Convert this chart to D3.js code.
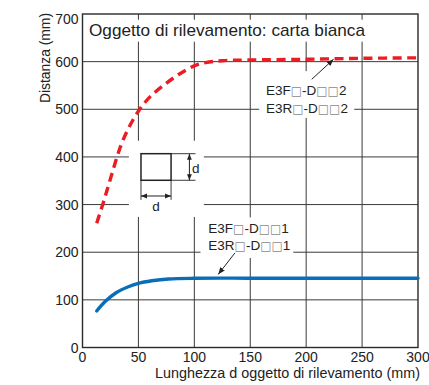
<!DOCTYPE html>
<html><head><meta charset="utf-8">
<script src="https://cdn.jsdelivr.net/npm/d3@7/dist/d3.min.js"></script>
<style>
html,body{margin:0;padding:0;background:#fff;}
svg{display:block;font-family:"Liberation Sans",Arial,Helvetica,sans-serif;}
</style></head>
<body>
<svg id="c" width="429" height="385"></svg>
<script>
// ---- data ----
const xTicks = [0, 50, 100, 150, 200, 250, 300];
const yTicks = [0, 100, 200, 300, 400, 500, 600, 700];
const redX = [12.7, 18.6, 24.6, 30.6, 35, 40, 45, 50, 55, 62, 74, 86, 100, 110, 125, 150, 200, 250, 300];
const redY = [261, 304, 351, 398, 428, 455, 477, 496, 512, 530, 553, 573, 591, 598, 602, 603.5, 605, 607, 608];
const blueX = [12.7, 20, 30, 41, 50, 62, 77, 100, 150, 200, 250, 300];
const blueY = [76.6, 96, 115, 127.6, 134.7, 140, 143.8, 145.3, 145.5, 145.5, 145.5, 145.5];
const titleText = "Oggetto di rilevamento: carta bianca";
const xTitle = "Lunghezza d oggetto di rilevamento (mm)";
const yTitle = "Distanza (mm)";
const label2 = [["E3F","□","-D","□□","2"],["E3R","□","-D","□□","2"]];
const label1 = [["E3F","□","-D","□□","1"],["E3R","□","-D","□□","1"]];

// ---- scales ----
const W = 429, H = 385;
const x = d3.scaleLinear().domain([0, 300]).range([82.5, 418]);
const y = d3.scaleLinear().domain([0, 700]).range([347.5, 14]);
const svg = d3.select("#c");
const gridCol = "#3a3a3a", textCol = "#222";

// grid
const g = svg.append("g");
g.selectAll("line.v").data(xTicks.slice(1, -1)).join("line")
  .attr("x1", d => x(d)).attr("x2", d => x(d)).attr("y1", y(700)).attr("y2", y(0))
  .attr("stroke", gridCol).attr("stroke-width", 1);
g.selectAll("line.h").data(yTicks.slice(1, -1)).join("line")
  .attr("y1", d => y(d)).attr("y2", d => y(d)).attr("x1", x(0)).attr("x2", x(300))
  .attr("stroke", gridCol).attr("stroke-width", 1);

// white knock-out boxes behind annotations (in data units: x0,x1,y0,y1)
const boxes = [
  [2, 253, 688, 642],      // title
  [158, 243, 580, 482],    // label 2
  [105.5, 188.5, 273, 188],// label 1
  [41.5, 108.5, 434, 274]  // icon
];
g.selectAll("rect.k").data(boxes).join("rect")
  .attr("x", d => x(d[0])).attr("width", d => x(d[1]) - x(d[0]))
  .attr("y", d => y(d[2])).attr("height", d => y(d[3]) - y(d[2]))
  .attr("fill", "#fff");

// frame
svg.append("rect").attr("x", x(0)).attr("y", y(700))
  .attr("width", x(300) - x(0)).attr("height", y(0) - y(700))
  .attr("fill", "none").attr("stroke", "#2a2a2a").attr("stroke-width", 1.4);

// curves
const line = d3.line().x(d => x(d[0])).y(d => y(d[1])).curve(d3.curveCatmullRom.alpha(0.5));
svg.append("path").datum(redX.map((v, i) => [v, redY[i]]))
  .attr("d", line).attr("fill", "none").attr("stroke", "#ec1c24")
  .attr("stroke-width", 3.4).attr("stroke-dasharray", "9,5.5");
svg.append("path").datum(blueX.map((v, i) => [v, blueY[i]]))
  .attr("d", line).attr("fill", "none").attr("stroke", "#0a6db8")
  .attr("stroke-width", 3.4).attr("stroke-linecap", "round");

// tick labels
svg.selectAll("text.yt").data(yTicks).join("text")
  .attr("x", 78.5).attr("y", d => d === 700 ? y(d) + 4.5 : y(d)).attr("dy", "0.36em")
  .attr("text-anchor", "end").attr("font-size", 14).attr("fill", textCol).text(d => d);
svg.selectAll("text.xt").data(xTicks).join("text")
  .attr("x", d => x(d)).attr("y", 362)
  .attr("text-anchor", "middle").attr("font-size", 14).attr("fill", textCol).text(d => d);

// axis titles
svg.append("text").attr("x", 155).attr("y", 377.5)
  .attr("textLength", 265).attr("lengthAdjust", "spacingAndGlyphs")
  .attr("font-size", 14).attr("fill", textCol).text(xTitle);
svg.append("text").attr("transform", "translate(50,103) rotate(-90)")
  .attr("textLength", 90).attr("lengthAdjust", "spacingAndGlyphs")
  .attr("font-size", 14.5).attr("fill", textCol).text(yTitle);

// title
svg.append("text").attr("x", x(0) + 6.5).attr("y", y(700) + 21.5)
  .attr("textLength", 276).attr("lengthAdjust", "spacingAndGlyphs")
  .attr("font-size", 16.2).attr("fill", textCol).text(titleText);

// arrow marker
const defs = svg.append("defs");
defs.append("marker").attr("id", "ah").attr("viewBox", "0 0 10 10").attr("refX", 10).attr("refY", 5)
  .attr("markerWidth", 7).attr("markerHeight", 7).attr("markerUnits", "userSpaceOnUse")
  .attr("orient", "auto")
  .append("path").attr("d", "M0,1 L10,5 L0,9 Z").attr("fill", "#222");

function label(rows, lx, ly1, ly2) {
  [ly1, ly2].forEach((ly, i) => {
    const t = svg.append("text").attr("x", x(lx)).attr("y", y(ly))
      .attr("font-size", 13.5).attr("fill", textCol);
    rows[i].forEach(part => {
      const sp = t.append("tspan").text(part);
      if (part.startsWith("□")) sp.attr("fill", "#8a8a8a").attr("font-family", "DejaVu Sans").attr("font-size", 12);
    });
  });
}
label(label2, 164, 530, 491.6);
label(label1, 112.5, 239.7, 204.7);

// arrows (data units)
const arrows = [[205, 563, 224.5, 605], [136.3, 198.5, 121.4, 153.5]];
svg.selectAll("line.ar").data(arrows).join("line")
  .attr("x1", d => x(d[0])).attr("y1", d => y(d[1])).attr("x2", d => x(d[2])).attr("y2", d => y(d[3]))
  .attr("stroke", "#222").attr("stroke-width", 1).attr("marker-end", "url(#ah)");

// icon: square of size d with dimension arrows (data units)
const sq = [52.3, 79.2, 406.8, 351];
const ic = svg.append("g").attr("stroke", "#222").attr("fill", "none");
ic.append("rect").attr("x", x(sq[0])).attr("y", y(sq[2]))
  .attr("width", x(sq[1]) - x(sq[0])).attr("height", y(sq[3]) - y(sq[2])).attr("stroke-width", 1.5);
const dimX = 95.6, dimY = 318;
// extension lines
ic.append("line").attr("x1", x(sq[1])).attr("x2", x(101)).attr("y1", y(sq[2])).attr("y2", y(sq[2])).attr("stroke-width", 0.9);
ic.append("line").attr("x1", x(sq[1])).attr("x2", x(101)).attr("y1", y(sq[3])).attr("y2", y(sq[3])).attr("stroke-width", 0.9);
ic.append("line").attr("x1", x(sq[0])).attr("x2", x(sq[0])).attr("y1", y(sq[3])).attr("y2", y(310)).attr("stroke-width", 0.9);
ic.append("line").attr("x1", x(sq[1])).attr("x2", x(sq[1])).attr("y1", y(sq[3])).attr("y2", y(310)).attr("stroke-width", 0.9);
defs.append("marker").attr("id", "ah2").attr("viewBox", "0 0 10 10").attr("refX", 10).attr("refY", 5)
  .attr("markerWidth", 6).attr("markerHeight", 6).attr("markerUnits", "userSpaceOnUse")
  .attr("orient", "auto-start-reverse")
  .append("path").attr("d", "M0,1 L10,5 L0,9 Z").attr("fill", "#222").attr("stroke", "none");
ic.append("line").attr("x1", x(dimX)).attr("x2", x(dimX)).attr("y1", y(sq[2])).attr("y2", y(sq[3]))
  .attr("stroke-width", 1).attr("marker-start", "url(#ah2)").attr("marker-end", "url(#ah2)");
ic.append("line").attr("x1", x(sq[0])).attr("x2", x(sq[1])).attr("y1", y(dimY)).attr("y2", y(dimY))
  .attr("stroke-width", 1).attr("marker-start", "url(#ah2)").attr("marker-end", "url(#ah2)");
svg.append("text").attr("x", x(dimX) + 2.5).attr("y", y(sq[3]) - 7.5).attr("font-size", 13.5).attr("fill", textCol).text("d");
svg.append("text").attr("x", (x(sq[0]) + x(sq[1])) / 2).attr("y", y(dimY) + 15).attr("text-anchor", "middle")
  .attr("font-size", 13.5).attr("fill", textCol).text("d");
</script>
</body></html>
